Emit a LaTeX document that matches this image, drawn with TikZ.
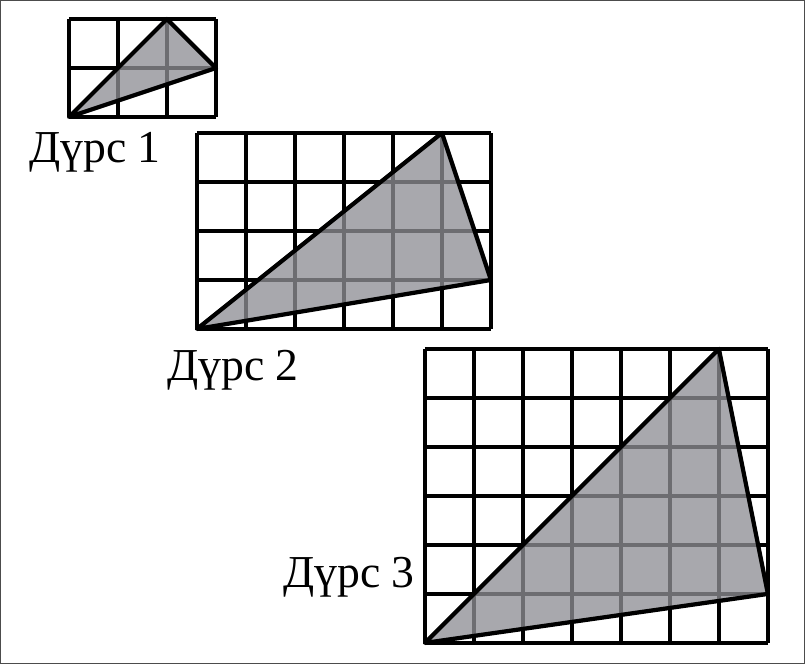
\documentclass[tikz,border=0pt]{standalone}
\usepackage{fontspec}
\setmainfont{Liberation Serif}
\usetikzlibrary{positioning,calc}
\definecolor{trifill}{RGB}{142,142,148}

\begin{document}
\begin{tikzpicture}[
  x=0.98cm, y=0.98cm,
  font=\fontsize{26}{30}\selectfont,
  gridline/.style={draw=black, line width=2.4pt, step=1},
  tri/.style={fill=trifill, fill opacity=0.77, draw=black, draw opacity=1, line width=2.4pt, line join=round},
  lbl/.style={inner sep=0pt},
]
\useasboundingbox (0,0) rectangle (16.43,13.551);
\draw[black!70, line width=0.6pt] (0.01,0.01) rectangle (16.42,13.541);

% figure 1
\begin{scope}[shift={(1.408,11.163)}]
  \draw[gridline] (0,0) grid (3,2);
  \filldraw[tri] (0,0) -- (2,2) -- (3,1) -- cycle;
  \coordinate (o1) at (0,0);
\end{scope}
% figure 2
\begin{scope}[shift={(4.020,6.837)}]
  \draw[gridline] (0,0) grid (6,4);
  \filldraw[tri] (0,0) -- (5,4) -- (6,1) -- cycle;
  \coordinate (o2) at (0,0);
\end{scope}
% figure 3
\begin{scope}[shift={(8.673,0.429)}]
  \draw[gridline] (0,0) grid (7,6);
  \filldraw[tri] (0,0) -- (6,6) -- (7,1) -- cycle;
  \coordinate (o3) at (0,0);
\end{scope}

\node[lbl] (d1) at ($(o1)+(0.531,-0.714)$) {Дүрс 1};
\node[lbl] (d2) at ($(o2)+(0.735,-0.837)$) {Дүрс 2};
\node[lbl] (d3) at ($(o3)+(-1.551,1.347)$) {Дүрс 3};
\end{tikzpicture}
\end{document}
